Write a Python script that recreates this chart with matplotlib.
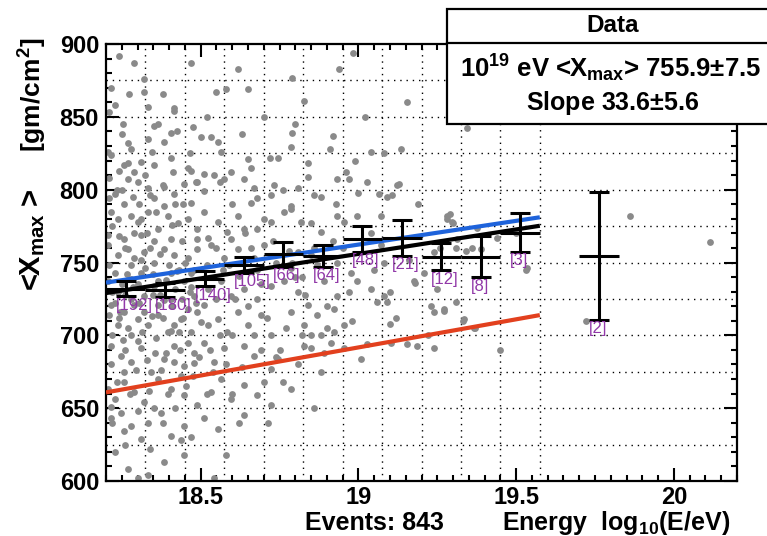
import matplotlib
matplotlib.use('Agg')
import matplotlib.pyplot as plt
import numpy as np
from matplotlib.lines import Line2D
from matplotlib.patches import Rectangle
from matplotlib.ticker import MultipleLocator

plt.rcParams['font.family'] = ['Liberation Sans', 'DejaVu Sans']
plt.rcParams['font.weight'] = 'bold'
plt.rcParams['mathtext.fontset'] = 'custom'
plt.rcParams['mathtext.rm'] = 'Liberation Sans:bold'
plt.rcParams['mathtext.it'] = 'Liberation Sans:bold'
plt.rcParams['mathtext.bf'] = 'Liberation Sans:bold'

# ---------------- data ----------------
# individual events (log10 E, Xmax)
event_energy = [
    18.242, 18.29, 18.469, 18.617, 18.791, 18.939, 18.984,
    18.274, 18.322, 18.38, 18.548, 18.58, 18.651, 18.828, 18.332, 18.417, 19.155, 18.322,
    18.253, 18.353, 18.417, 18.475, 18.406, 18.501, 18.533, 18.791, 18.918, 19.345, 18.332, 18.211,
    18.216, 18.269, 18.279, 18.385, 18.554, 18.564, 18.649, 18.744, 18.786, 19.039, 19.081, 19.134,
    18.311, 18.258, 18.353, 18.469, 18.511, 18.411, 18.242, 18.206,
    18.269, 18.30, 18.332, 18.227, 18.211, 18.417, 18.448, 18.49, 18.511, 18.543, 18.575, 18.596,
    18.638, 18.67, 18.733, 18.807, 18.839, 18.933, 18.97, 19.028, 19.065, 19.092, 19.108, 19.123,
    18.353, 18.385, 18.469, 18.659, 18.68, 18.722, 18.786, 18.86, 18.258,
    18.216, 18.237, 18.279, 18.30, 18.332, 18.364, 18.395, 18.427, 18.459, 18.49, 18.511, 18.554,
    18.585, 18.617, 18.638, 18.68, 18.722, 18.765, 18.786, 18.817, 18.849, 18.881, 18.933, 18.955,
    18.997, 19.071, 19.282, 19.297, 19.313, 19.376, 18.206, 18.258, 18.311, 18.353, 18.406, 18.522, 18.596,
    18.206, 18.237, 18.269, 18.29, 18.322, 18.353, 18.385, 18.417, 18.459, 18.49, 18.533, 18.575,
    18.617, 18.67, 18.701, 18.786, 18.807, 18.849, 18.933, 18.975, 19.071, 19.208, 19.535,
    18.227, 18.311, 18.406, 18.469,
    18.206, 18.237, 18.279, 18.322, 18.353, 18.406, 18.448, 18.48, 18.522, 18.564, 18.596, 18.638,
    18.68, 18.722, 18.765, 18.807, 18.839, 18.891, 18.933, 18.997, 19.039, 19.092, 19.176, 19.25,
    18.216, 18.29, 18.364, 18.511,
    18.211, 18.237, 18.258, 18.279, 18.30, 18.332, 18.364, 18.395, 18.417, 18.438, 18.469, 18.49,
    18.522, 18.554, 18.585, 18.617, 18.649, 18.691, 18.722, 18.786, 18.828, 18.87, 18.923, 18.955,
    19.06, 19.081, 19.239, 19.271, 19.334, 19.366, 18.881, 18.923,
    18.216, 18.248, 18.279, 18.311, 18.343, 18.385, 18.417, 18.448, 18.48, 18.511, 18.543, 18.575,
    18.638, 18.67, 18.722, 18.744, 18.828, 18.849, 18.891, 18.912, 18.955, 19.028, 19.102, 19.155,
    19.187, 19.239, 19.007, 18.258, 18.438,
    18.206, 18.227, 18.258, 18.29, 18.322, 18.364, 18.406, 18.448, 18.49, 18.533, 18.564, 18.596,
    18.638, 18.68, 18.722, 18.786, 18.86, 18.216, 18.353,
    18.216, 18.248, 18.279, 18.332, 18.374, 18.448, 18.511, 18.554, 18.638, 18.712, 18.258, 18.311,
    18.406, 18.438,
    18.227, 18.269, 18.332, 18.385, 18.30, 18.543, 18.448,
    18.22, 18.24, 18.26, 18.28, 18.30, 18.31, 18.33, 18.35, 18.37, 18.38, 18.40, 18.42, 18.44, 18.46,
    18.48, 18.21, 18.23, 18.25, 18.27, 18.29, 18.32, 18.34, 18.36, 18.39, 18.41, 18.43, 18.45, 18.47,
    18.49, 18.50, 18.22, 18.24, 18.26, 18.28, 18.30, 18.33, 18.35, 18.37, 18.39, 18.41, 18.43, 18.46,
    18.48, 18.52, 18.55, 18.57, 18.60, 18.62, 18.65, 18.68, 18.71, 18.74, 18.77, 18.80, 18.83, 18.86,
    18.90, 18.95, 18.21, 18.25, 18.29, 18.34, 18.38, 18.42, 18.46, 18.31, 18.36, 18.26, 18.44, 18.53,
    18.58, 18.63, 18.69, 18.76, 18.81, 18.88, 18.98, 19.05, 19.12, 19.16, 19.19, 19.22, 19.26, 19.45,
    19.50, 19.02, 18.99, 18.93,
    19.13, 19.29, 19.30, 19.28, 19.31, 19.24, 19.34, 19.36, 19.39, 19.44, 19.53, 19.10, 19.18, 19.23,
    19.27, 19.31, 19.10, 19.33, 19.37, 19.72, 19.86, 20.115,
    18.215, 18.23, 18.25, 18.27, 18.235, 18.285, 18.305, 18.325, 18.345, 18.365, 18.385, 18.405,
    18.425, 18.445, 18.465, 18.485, 18.22, 18.245, 18.265, 18.285, 18.305, 18.325, 18.345, 18.365,
    18.385, 18.405, 18.425, 18.445, 18.465, 18.485, 18.215, 18.235, 18.255, 18.275, 18.295, 18.315,
    18.335, 18.355, 18.375, 18.395, 18.415, 18.435, 18.455, 18.475, 18.495, 18.22, 18.26, 18.30,
    18.34, 18.38, 18.42, 18.47, 18.52, 18.56, 18.61, 18.66, 18.70, 18.75, 18.79, 18.85,
    18.52, 18.56, 18.60, 18.63, 18.66, 18.70, 18.72, 18.76, 18.80, 18.84, 18.88, 18.91, 18.96, 19.00,
    18.55, 18.59, 18.64, 18.69, 18.73, 18.78, 18.82, 18.87, 18.92, 18.97, 19.04, 19.08, 18.54, 18.60,
    18.67, 18.74, 18.82, 18.90, 18.62, 18.70, 18.58,
]
event_xmax = [
    892, 887, 887, 883, 877, 883, 894,
    866, 867, 866, 867, 869, 869, 861, 857, 856, 860, 876,
    845, 844, 854, 843, 839, 836, 836, 839, 837, 842, 835, 853,
    824, 832, 828, 833, 833, 826, 821, 822, 829, 826, 825, 828,
    819, 817, 817, 813, 811, 812, 813, 826,
    807, 805, 801, 797, 794, 797, 804, 805, 799, 810, 807, 812,
    807, 801, 803, 801, 809, 807, 807, 805, 797, 795, 796, 803,
    794, 789, 791, 791, 794, 796, 789, 796, 790,
    785, 780, 782, 778, 785, 773, 782, 777, 780, 773, 785, 778,
    771, 782, 773, 773, 778, 785, 787, 778, 777, 771, 782, 778,
    782, 782, 782, 778, 766, 774, 769, 766, 769, 765, 766, 767, 766,
    762, 755, 759, 753, 757, 750, 759, 755, 753, 759, 762, 753,
    759, 753, 762, 746, 757, 755, 750, 743, 762, 743, 746,
    743, 743, 743, 743,
    737, 730, 739, 727, 734, 725, 737, 727, 732, 737, 727, 732,
    725, 734, 737, 730, 721, 737, 727, 737, 732, 723, 737, 732,
    721, 721, 721, 721,
    714, 707, 716, 700, 711, 707, 714, 702, 707, 711, 702, 716,
    707, 711, 702, 716, 707, 714, 700, 716, 707, 714, 718, 707,
    723, 727, 716, 718, 711, 705, 700, 702,
    693, 686, 682, 691, 675, 684, 693, 679, 688, 695, 682, 691,
    693, 686, 677, 684, 693, 691, 688, 695, 691, 694, 695, 694,
    693, 691, 684, 675, 672,
    663, 656, 668, 661, 654, 670, 663, 659, 652, 661, 670, 656,
    666, 659, 652, 663, 650, 651, 650,
    643, 647, 638, 640, 647, 638, 643, 636, 645, 640, 634, 629,
    631, 628,
    620, 608, 604, 613, 602, 602, 618,
    775, 768, 760, 748, 735, 752, 770, 742, 728, 712, 748, 732, 765, 718,
    745, 748, 722, 735, 705, 770, 716, 760, 698, 738, 720, 702, 750, 733,
    766, 709, 700, 712, 690, 725, 696, 683, 728, 756, 688, 776, 745, 695,
    681, 748, 725, 745, 700, 741, 720, 745, 712, 750, 705, 740, 728, 760,
    720, 760, 808, 800, 812, 796, 803, 790, 815, 780, 785, 728, 725, 690,
    680, 678, 690, 668, 680, 675, 710, 745, 712, 752, 790, 700, 760, 690,
    770, 850, 820, 790,
    804, 783, 777, 780, 760, 757, 758, 760, 759, 767, 745, 730, 736, 720,
    717, 723, 708, 710, 705, 710, 782, 764,
    870, 858, 838, 818, 800, 795, 790, 810, 826, 845, 802, 822,
    840, 790, 825, 805, 730, 716, 742, 733, 722, 746, 713, 737,
    724, 703, 744, 712, 730, 722, 680, 668, 697, 660, 676, 702,
    662, 688, 676, 660, 682, 690, 665, 672, 685, 640, 625, 648,
    622, 640, 650, 630, 660, 700, 725, 760, 780, 690, 750, 700,
    850, 805, 790, 838, 815, 850, 822, 800, 845, 818, 795, 828, 812, 798,
    760, 748, 770, 735, 765, 758, 740, 748, 765, 730, 770, 750, 675, 660,
    700, 685, 700, 705, 640, 668, 618,
]

# profile (mean Xmax per energy bin)
bin_lo = 18.2
bin_width = 0.125
prof_energy = [18.2625, 18.3875, 18.5125, 18.6375, 18.7625, 18.8875,
               19.0125, 19.1375, 19.2625, 19.3875, 19.5125, 19.7625]
prof_mean = [732.0, 731.0, 739.0, 748.5, 755.5, 754.5,
             766.0, 767.0, 754.0, 754.0, 770.5, 754.5]
prof_err = [5.2, 4.6, 5.2, 5.4, 8.5, 7.5,
            8.8, 12.2, 9.3, 14.0, 13.2, 44.0]
prof_count = [192, 180, 140, 105, 66, 64, 48, 21, 12, 8, 3, 2]

# linear fits: Xmax = value_at_19 + slope * (logE - 19)
fit_range = [18.2, 19.575]
fit_data = (755.9, 33.6)     # black
fit_blue = (762.3, 32.6)
fit_red = (691.7, 38.6)

x_ticks = [18.5, 19.0, 19.5, 20.0]
x_tick_labels = ['18.5', '19', '19.5', '20']
y_ticks = [600, 650, 700, 750, 800, 850, 900]

# ---------------- figure ----------------
W, H = 767, 536
fig = plt.figure(figsize=(W / 100, H / 100), dpi=100)
fig.patch.set_facecolor('white')
ax = fig.add_axes([106 / W, 1 - 481 / H, (737 - 106) / W, (481 - 44) / H])
ax.set_xlim(18.2, 20.2)
ax.set_ylim(600, 900)

# grid
for yv in np.arange(625, 900, 25):
    ax.axhline(yv, color='black', lw=1.0, ls=(0, (1, 3.5)), zorder=1)
edges = bin_lo + bin_width * np.arange(1, 12)
ax.vlines(edges, 600, 900, colors='black', lw=1.0, linestyles=[(0, (1, 3.5))], zorder=1)

ax.scatter(event_energy, event_xmax, s=24, color='#8a8a8a', linewidths=0, zorder=2)

xf = np.array(fit_range)
ax.plot(xf, fit_red[0] + fit_red[1] * (xf - 19), color='#e2401e', lw=3, zorder=3, solid_capstyle='butt')
ax.plot(xf, fit_blue[0] + fit_blue[1] * (xf - 19), color='#1e63db', lw=3, zorder=3, solid_capstyle='butt')
ax.plot(xf, fit_data[0] + fit_data[1] * (xf - 19), color='black', lw=3, zorder=4, solid_capstyle='butt')

ax.errorbar(prof_energy, prof_mean, yerr=prof_err, fmt='none', ecolor='black',
            elinewidth=2.2, capsize=7.5, capthick=2.2, zorder=5)
ax.errorbar(prof_energy, prof_mean, xerr=bin_width / 2, fmt='none', ecolor='black',
            elinewidth=2.2, capsize=0, zorder=5)

for c, m, e, n in zip(prof_energy, prof_mean, prof_err, prof_count):
    ax.text(c - 0.032, m - e - 1.0, f'[{n}]', color='#9138a8', fontsize=12,
            fontweight='normal', ha='left', va='top', zorder=6)

# ticks
ax.set_xticks(x_ticks)
ax.set_xticklabels(x_tick_labels)
ax.set_yticks(y_ticks)
ax.xaxis.set_minor_locator(MultipleLocator(0.05))
ax.yaxis.set_minor_locator(MultipleLocator(10))
ax.tick_params(which='both', direction='in', top=True, right=True, width=1.5, labelsize=17)
ax.tick_params(which='major', length=9.5)
ax.tick_params(which='minor', length=4.5)
ax.tick_params(axis='x', pad=3.5)
ax.tick_params(axis='y', pad=5)
for sp in ax.spines.values():
    sp.set_linewidth(1.6)

# axis labels
fig.text(33 / W, 1 - 38 / H, r'[gm/cm$^{2}$]', rotation=90,
         ha='center', va='top', fontsize=19)
fig.text(33 / W, 1 - 291 / H, r'<X$_{max}$ >', rotation=90,
         ha='center', va='bottom', fontsize=21)
fig.text(730 / W, 1 - 530 / H, r'Energy  log$_{10}$(E/eV)', ha='right',
         va='baseline', fontsize=18)
fig.text(305 / W, 1 - 530 / H, 'Events: 843', ha='left', va='baseline', fontsize=18)

# stats box
box = Rectangle((447 / W, 1 - 124 / H), 0.5, (124 - 9) / H, transform=fig.transFigure,
                facecolor='white', edgecolor='black', lw=1.6, zorder=10)
fig.add_artist(box)
fig.add_artist(Line2D([447 / W, 1.0], [1 - 43 / H, 1 - 43 / H], transform=fig.transFigure,
                      color='black', lw=1.6, zorder=11))
fig.text(613 / W, 1 - 26 / H, 'Data', ha='center', va='center', fontsize=17.5, zorder=12)
fig.text(611 / W, 1 - 68 / H, r'10$^{19}$ eV <X$_{max}$> 755.9$\pm$7.5', ha='center',
         va='center', fontsize=18.5, zorder=12)
fig.text(613 / W, 1 - 103 / H, r'Slope 33.6$\pm$5.6', ha='center', va='center',
         fontsize=18, zorder=12)

fig.savefig('out.png', dpi=100)
